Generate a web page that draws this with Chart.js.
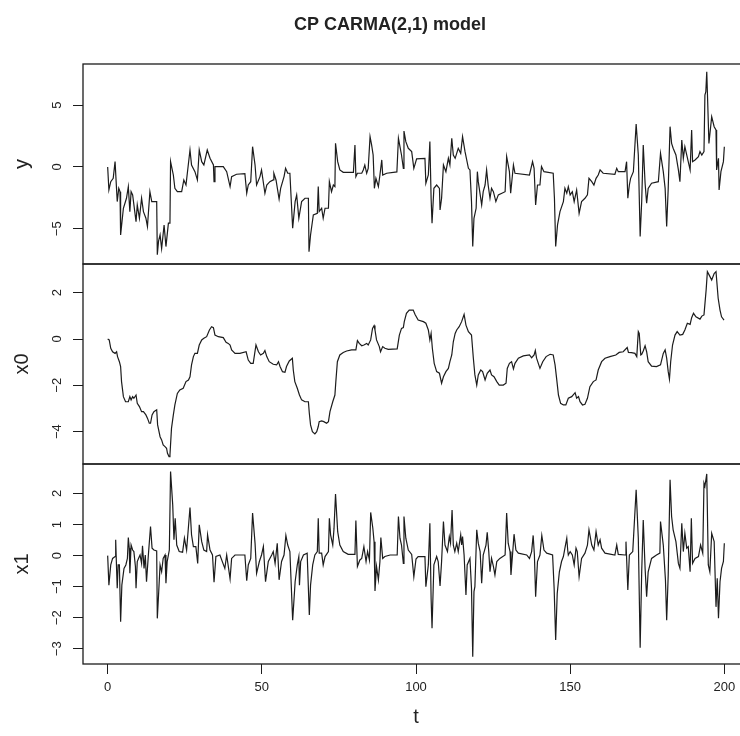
<!DOCTYPE html>
<html>
<head>
<meta charset="utf-8">
<script src="https://cdn.jsdelivr.net/npm/chart.js@4.4.1/dist/chart.umd.min.js"></script>
<style>
  html, body { margin: 0; padding: 0; background: #fff; overflow: hidden; }
  #wrap { position: relative; width: 740px; height: 736px; overflow: hidden; }
  canvas { position: absolute; left: 0; }
</style>
</head>
<body>
<div id="wrap">
  <canvas id="pY" width="780" height="270" style="top:0px"></canvas>
  <canvas id="pX0" width="780" height="212" style="top:258px"></canvas>
  <canvas id="pX1" width="780" height="278" style="top:458px"></canvas>
</div>
<script>
// ---- data (t = time, values per panel) ----
const tY = [
  0, 0.4, 1.0, 1.8, 2.4, 3.1, 3.6, 4.0, 4.2, 5.1,
  6.1, 6.7, 7.2, 7.6, 8.1, 9.2, 9.6, 10.3, 11.0, 11.6,
  12.4, 12.9, 13.7, 14.3, 15.9, 16.1, 16.5, 17.0, 17.5, 18.3,
  18.9, 19.7, 20.2, 20.4, 21.3, 21.8, 22.6, 24.0, 24.7, 25.4,
  26.7, 27.2, 28.3, 29.1, 29.7, 30.5, 31.2, 32.3, 33.2, 34.3,
  34.5, 34.8, 37.5, 38.6, 39.7, 40.2, 41.8, 44.5, 45.1, 45.6,
  46.4, 47.0, 47.8, 48.3, 49.4, 49.9, 51.0, 51.6, 52.6, 53.7,
  53.9, 54.6, 55.6, 56.1, 57.2, 57.7, 58.4, 59.1, 60.0, 60.8,
  61.3, 62.0, 62.9, 64.0, 65.1, 65.3, 65.8, 66.7, 68.0, 68.3,
  68.6, 69.4, 69.9, 70.5, 71.6, 71.9, 72.6, 73.2, 73.7, 73.9,
  74.6, 75.3, 76.4, 79.7, 80.2, 80.5, 81.0, 82.4, 82.9, 83.4,
  84.0, 84.5, 85.1, 85.6, 86.1, 86.5, 87.0, 87.8, 88.3, 88.9,
  89.2, 90.5, 93.8, 94.3, 94.8, 95.3, 95.9, 96.1, 96.7, 97.5,
  98.6, 99.3, 100.2, 102.9, 103.2, 104.0, 104.5, 104.9, 105.2, 105.8,
  106.7, 107.6, 107.8, 108.3, 108.9, 109.7, 110.5, 111.0, 111.6, 112.1,
  112.7, 113.7, 114.5, 115.1, 115.9, 117.0, 117.5, 118.0, 118.4, 118.8,
  119.5, 119.9, 120.2, 121.3, 121.8, 122.4, 122.9, 123.4, 124.0, 124.5,
  125.1, 125.9, 126.7, 128.9, 129.4, 130.3, 130.7, 131.6, 132.1, 136.8,
  137.8, 138.3, 138.8, 139.4, 140.2, 140.7, 141.5, 144.5, 144.9, 145.3,
  145.9, 146.7, 147.8, 148.3, 148.9, 149.4, 150.0, 150.7, 151.3, 152.1,
  152.9, 153.7, 154.8, 155.6, 156.1, 157.0, 157.7, 158.4, 159.1, 159.7,
  160.7, 164.5, 165.1, 165.6, 167.8, 168.3, 168.7, 169.2, 169.6, 170.5,
  171.4, 172.1, 172.7, 173.2, 173.7, 174.3, 174.8, 175.3, 176.4, 178.6,
  179.3, 180.2, 180.8, 181.3, 181.8, 182.4, 182.9, 183.4, 184.3, 185.1,
  185.6, 186.2, 186.7, 187.2, 187.8, 188.3, 188.9, 189.4, 189.7, 190.5,
  191.6, 192.1, 192.7, 193.4, 193.7, 194.0, 194.3, 194.6, 195.0, 195.9,
  196.7, 197.3, 197.5, 198.1, 198.3, 198.9, 199.7, 200.0
];
const yVals = [
  0, -1.86, -1.19, -0.92, 0.43, -2.8, -1.73, -2.0, -5.5, -3.34,
  -2.53, -1.59, -3.61, -2.0, -2.26, -4.42, -3.07, -4.15, -2.53, -3.61,
  -4.15, -4.82, -2.0, -2.8, -2.8, -7.1, -6.0, -5.5, -6.6, -4.7,
  -6.44, -4.55, -4.55, 0.43, -0.65, -1.73, -2.0, -2.0, -1.05, -1.46,
  1.37, 0.16, -0.38, -1.05, 1.37, 0.43, 0.16, 1.37, 0.7, 0.16,
  -1.19, 0.03, 0.03, -0.38, -1.59, -0.78, -0.59, -0.54, -2.13, -1.46,
  -1.19, 1.64, 0.16, -1.46, -0.78, -0.24, -2.13, -1.46, -1.19, -1.05,
  -0.51, -1.05, -2.59, -1.73, -0.78, -0.11, -0.51, -0.51, -4.96, -2.8,
  -2.26, -4.15, -2.8, -2.53, -2.53, -6.85, -5.5, -3.88, -3.75, -1.59,
  -3.61, -3.34, -4.15, -3.34, -3.34, -1.19, -2.0, -1.46, -1.59, 1.91,
  0.43, -0.24, -0.43, -0.43, 1.78, -0.78, -0.51, -0.51, -0.24, 0.16,
  -0.51, -0.11, 2.45, 1.78, 0.97, -1.73, -0.92, -1.59, -0.65, 0.57,
  -0.65, -0.51, -0.4, 2.32, 1.64, 0.97, -0.11, 2.91, 2.05, 1.51,
  1.24, -0.11, 0.65, 0.7, -1.32, -0.65, 2.05, -2.53, -4.55, -1.73,
  -1.46, -1.73, -3.48, -2.53, 0.16, -0.38, 0.7, 0.16, 2.32, 0.97,
  0.7, 1.51, 1.1, 2.45, 1.24, -0.11, -0.24, -2.8, -6.44, -4.15,
  -3.34, -0.38, -1.19, -3.07, -2.0, -1.46, -0.24, -1.46, -2.53, -1.73,
  -2.0, -2.8, -2.26, -2.0, 0.84, -0.38, -2.13, 0.16, -0.51, -0.65,
  0.43, -0.11, -3.07, -1.46, -1.46, 0.03, -0.38, -0.51, -2.53, -6.44,
  -4.69, -3.61, -2.8, -1.73, -2.13, -1.59, -2.26, -2.0, -2.8, -1.86,
  -3.75, -2.8, -2.53, -2.26, -0.92, -1.19, -1.46, -0.92, -0.65, -0.24,
  -0.51, -0.59, -0.11, -0.38, -0.38, 0.43, -2.53, -1.46, -0.92, -0.38,
  3.48, 0.97, -5.63, -2.8, 1.78, -1.32, -2.94, -1.73, -1.32, -1.19,
  1.1, -0.38, -1.73, -4.82, -1.73, 3.26, 1.91, 1.51, 0.97, -0.24,
  -1.19, 2.18, 0.7, 1.64, 0.97, 0.43, -0.24, 2.99, 0.43, 0.57,
  0.84, 1.24, 0.97, 1.24, 5.82, 6.09, 7.71, 5.28, 1.91, 4.07,
  3.26, 2.99, -0.24, 0.7, -1.86, -0.38, 0.43, 1.64
];

const tX0 = [
  0, 0.5, 1.0, 1.6, 2.4, 2.9, 3.2, 3.8, 4.2, 4.5,
  5.1, 5.8, 6.7, 7.2, 7.6, 8.1, 8.5, 9.2, 9.6, 10.3,
  11.0, 11.6, 12.4, 12.9, 13.5, 13.9, 14.4, 15.0, 15.9, 16.2,
  17.0, 17.5, 18.0, 18.6, 19.1, 19.4, 19.9, 20.2, 20.7, 21.3,
  21.8, 22.6, 23.4, 24.5, 25.4, 26.2, 26.7, 27.2, 27.8, 28.3,
  29.1, 29.7, 30.5, 31.2, 32.1, 33.0, 33.7, 34.3, 34.8, 35.9,
  37.5, 38.4, 39.1, 39.7, 40.2, 41.3, 42.9, 44.9, 45.6, 46.4,
  47.2, 48.1, 48.9, 49.6, 50.5, 51.0, 51.6, 52.4, 53.7, 54.8,
  55.4, 55.9, 56.7, 57.5, 58.0, 58.9, 59.9, 60.2, 60.7, 61.5,
  62.2, 62.9, 64.0, 65.1, 65.4, 65.8, 66.4, 67.2, 67.8, 68.3,
  68.6, 69.4, 70.1, 71.0, 71.6, 72.1, 73.0, 73.7, 74.0, 74.5,
  75.3, 76.4, 77.5, 79.1, 80.5, 81.0, 81.6, 82.4, 83.1, 84.0,
  84.5, 85.3, 85.9, 86.4, 86.7, 87.2, 88.1, 88.5, 89.2, 89.9,
  91.0, 93.9, 94.6, 95.3, 95.9, 96.2, 96.9, 97.8, 99.1, 99.7,
  100.7, 102.4, 103.2, 104.0, 104.5, 104.9, 105.3, 105.9, 106.7, 107.6,
  108.3, 108.9, 109.7, 110.5, 111.0, 111.6, 112.1, 112.7, 113.2, 114.0,
  114.8, 115.6, 116.2, 117.0, 118.0, 118.6, 119.1, 119.7, 120.2, 121.0,
  121.6, 122.4, 123.1, 124.0, 124.5, 125.3, 126.2, 127.0, 128.3, 129.2,
  129.6, 130.3, 131.0, 131.6, 132.1, 133.2, 134.8, 136.8, 137.5, 138.3,
  138.7, 139.1, 140.2, 141.1, 142.2, 143.5, 144.5, 145.1, 145.6, 146.2,
  146.9, 147.8, 148.6, 149.4, 150.5, 151.6, 152.1, 152.7, 153.2, 154.0,
  154.8, 155.6, 156.4, 157.5, 158.4, 159.1, 160.2, 161.3, 162.9, 164.8,
  165.9, 167.2, 168.5, 168.9, 169.9, 171.0, 171.6, 172.1, 172.4, 172.9,
  173.2, 173.7, 174.3, 174.8, 175.3, 176.4, 178.0, 179.3, 180.2, 180.8,
  181.3, 181.8, 182.2, 182.6, 183.2, 184.0, 184.7, 185.6, 186.5, 187.2,
  188.0, 188.9, 189.4, 190.0, 190.8, 192.1, 192.7, 193.4, 194.1, 194.5,
  195.1, 195.9, 196.7, 197.3, 198.0, 198.6, 199.1, 199.9
];
const x0Vals = [
  0, -0.04, -0.4, -0.55, -0.62, -0.55, -0.76, -0.98, -1.19, -1.84,
  -2.49, -2.71, -2.71, -2.49, -2.63, -2.49, -2.56, -2.42, -2.78, -2.92,
  -3.14, -3.14, -3.28, -3.42, -3.64, -3.64, -3.28, -3.14, -3.06, -3.71,
  -4.22, -4.36, -4.58, -4.65, -4.72, -4.94, -5.08, -5.01, -3.86, -3.28,
  -2.85, -2.35, -2.2, -2.13, -1.84, -1.77, -1.63, -1.12, -0.76, -0.62,
  -0.62, -0.26, -0.04, 0.03, 0.1, 0.39, 0.53, 0.49, 0.17, 0.1,
  0.06, -0.14, -0.19, -0.26, -0.47, -0.62, -0.62, -0.55, -0.91, -1.05,
  -1.05, -0.26, -0.55, -0.69, -0.62, -0.5, -0.76, -0.98, -1.09, -1.12,
  -0.98, -1.19, -1.41, -1.44, -1.19, -0.95, -0.83, -1.34, -1.84, -2.13,
  -2.42, -2.63, -2.71, -2.71, -3.21, -3.71, -4.0, -4.1, -4.0, -3.78,
  -3.57, -3.54, -3.57, -3.64, -3.57, -3.14, -2.71, -2.42, -1.84, -0.98,
  -0.69, -0.58, -0.52, -0.47, -0.47, -0.07, -0.19, -0.29, -0.26, -0.19,
  -0.26, -0.04, 0.46, 0.58, 0.39, -0.04, -0.33, -0.55, -0.33, -0.4,
  -0.45, -0.43, 0.17, 0.46, 0.49, 0.75, 1.11, 1.25, 1.25, 1.06,
  0.82, 0.75, 0.68, 0.39, -0.04, 0.24, -0.4, -1.05, -1.41, -1.48,
  -1.91, -1.63, -1.41, -1.27, -0.98, -0.69, -0.12, 0.24, 0.39, 0.53,
  0.75, 1.06, 0.6, 0.32, 0.17, -0.83, -1.55, -1.99, -1.55, -1.34,
  -1.41, -1.77, -1.48, -1.34, -1.55, -1.63, -1.84, -1.99, -1.99, -1.91,
  -1.27, -1.05, -0.98, -1.29, -1.05, -0.83, -0.73, -0.69, -0.81, -0.69,
  -0.5, -0.83, -1.27, -0.98, -0.76, -0.66, -0.69, -1.12, -1.7, -2.42,
  -2.78, -2.85, -2.85, -2.56, -2.49, -2.32, -2.56, -2.49, -2.71, -2.85,
  -2.82, -2.56, -2.06, -1.84, -1.77, -1.34, -0.98, -0.83, -0.76, -0.69,
  -0.58, -0.55, -0.37, -0.58, -0.59, -0.62, -0.76, 0.32, 0.24, -0.69,
  -0.66, -0.52, -0.29, -0.55, -0.98, -1.17, -1.19, -1.12, -0.62, -0.47,
  -0.83, -1.41, -1.73, -0.98, -0.26, 0.17, 0.32, 0.17, 0.2, 0.39,
  0.68, 0.63, 0.92, 1.11, 0.96, 0.86, 0.99, 1.04, 2.12, 2.91,
  2.76, 2.55, 2.83, 2.91, 1.76, 1.25, 0.96, 0.82
];

const tX1 = [
  0, 0.4, 1.0, 1.6, 2.4, 2.6, 2.9, 3.1, 3.4, 3.8,
  4.2, 4.6, 5.3, 5.9, 6.4, 6.7, 7.0, 7.2, 7.6, 8.1,
  8.5, 9.0, 9.2, 9.6, 10.0, 10.5, 11.0, 11.3, 11.8, 12.2,
  12.6, 13.2, 13.9, 14.4, 15.0, 15.9, 16.1, 16.5, 17.0, 17.5,
  18.0, 18.6, 18.9, 19.3, 20.0, 20.4, 21.1, 21.5, 21.9, 22.4,
  23.2, 24.3, 24.9, 25.6, 26.7, 27.2, 27.8, 28.6, 29.2, 29.7,
  30.5, 31.2, 32.1, 32.4, 33.2, 34.0, 34.5, 35.1, 36.4, 38.0,
  38.6, 39.7, 40.2, 41.3, 44.5, 45.1, 45.6, 46.4, 47.0, 47.8,
  48.3, 49.2, 49.9, 50.5, 51.2, 52.1, 53.2, 53.7, 54.3, 55.0,
  55.6, 56.4, 57.2, 57.8, 58.4, 59.1, 60.0, 60.8, 61.5, 62.0,
  62.2, 62.6, 63.5, 64.7, 65.4, 65.8, 66.5, 67.2, 68.0, 68.3,
  68.6, 69.4, 69.9, 70.5, 71.6, 71.9, 72.3, 73.0, 73.4, 73.9,
  74.6, 75.3, 76.4, 78.0, 80.2, 80.5, 81.0, 81.8, 82.4, 83.1,
  83.8, 84.3, 84.9, 85.3, 86.0, 86.4, 86.7, 87.2, 87.8, 88.3,
  88.6, 89.2, 89.9, 91.6, 93.9, 94.3, 94.8, 95.3, 95.9, 96.1,
  96.7, 97.5, 98.6, 99.3, 100.0, 100.7, 102.9, 103.2, 104.0, 104.5,
  104.9, 105.2, 105.8, 106.7, 107.2, 107.8, 108.3, 108.9, 109.4, 110.2,
  110.8, 111.2, 111.7, 112.1, 112.6, 113.2, 113.7, 114.5, 114.8, 115.1,
  115.6, 116.2, 116.6, 117.5, 118.0, 118.4, 118.8, 119.1, 119.7, 120.2,
  120.8, 121.3, 121.8, 122.7, 123.1, 123.6, 124.0, 124.5, 125.1, 125.6,
  126.2, 127.2, 128.9, 129.4, 129.9, 130.5, 130.8, 131.3, 131.8, 132.4,
  133.2, 135.9, 136.8, 137.5, 138.0, 138.4, 138.8, 139.4, 140.2, 140.8,
  141.5, 142.4, 144.3, 144.8, 145.3, 145.8, 146.5, 147.2, 147.8, 148.3,
  148.9, 149.2, 149.4, 150.0, 150.7, 151.3, 151.9, 152.3, 152.9, 153.7,
  154.8, 155.6, 156.1, 157.0, 157.7, 158.4, 159.1, 159.7, 160.2, 161.3,
  164.5, 165.1, 165.6, 167.8, 168.1, 168.7, 169.2, 170.3, 171.4, 172.1,
  172.7, 173.2, 173.7, 174.3, 174.8, 175.3, 176.4, 178.0, 179.1, 179.3,
  180.2, 180.9, 181.3, 181.8, 182.4, 182.9, 183.4, 184.3, 185.1, 185.6,
  186.2, 186.7, 187.2, 187.8, 188.3, 188.9, 189.3, 189.7, 190.5, 191.6,
  192.3, 193.0, 193.4, 193.7, 194.3, 194.8, 195.3, 195.9, 196.7, 197.3,
  197.7, 198.1, 198.6, 199.1, 199.7, 200.0
];
const x1Vals = [
  0, -0.95, -0.3, -0.09, -0.03, 0.51, -0.46, -1.05, -0.3, -0.3,
  -2.13, -0.95, -0.41, -0.3, -0.09, 0.58, 0.24, -0.57, 0.34, 0.18,
  0.13, -0.35, -1.05, -0.19, -0.09, 0.02, -0.25, 0.32, -0.41, 0.02,
  -0.84, 0.02, 0.94, 0.24, 0.18, 0.15, -2.02, -1.27, -0.3, -0.52,
  -0.09, 0.02, -0.89, -0.19, 0.18, 2.71, 1.63, 0.51, 1.2, 0.34,
  0.13, 0.11, 0.56, 0.18, 1.55, 0.67, 0.29, 0.29, -0.25, 0.99,
  0.45, 0.18, 0.13, 0.67, 0.18, 0.02, -0.86, -0.03, 0.02, -0.41,
  0.02, -0.75, -0.09, 0.02, 0.02, -0.81, -0.3, -0.09, 1.37, 0.4,
  -0.57, -0.19, 0.02, 0.29, -0.84, -0.19, 0.02, 0.13, -0.25, 0.4,
  -0.78, -0.19, 0.02, 0.65, 0.34, 0.13, -2.08, -0.84, -0.3, -0.03,
  -0.95, -0.19, 0.02, 0.08, -1.91, -0.95, -0.3, 0.02, 0.13, 1.2,
  0.08, 0.08, -0.3, -0.03, 0.13, 1.2, 0.67, 0.34, 0.86, 1.98,
  0.77, 0.34, 0.13, 0.04, 0.04, 1.13, -0.35, -0.14, -0.09, 0.29,
  -0.19, 0.13, -0.14, 1.39, 0.88, 0.45, -1.14, -0.35, -0.78, -0.19,
  0.58, -0.09, -0.03, 0.02, 0.02, 1.26, 0.56, 0.34, -0.25, 1.26,
  0.56, 0.18, 0.04, -0.68, -0.11, -0.03, -0.03, -1.0, -0.3, 1.04,
  -1.38, -2.34, -0.3, -0.03, -0.19, -0.98, -0.19, 1.1, 0.34, 0.13,
  0.61, 0.4, 1.47, 0.34, 0.13, 0.4, 0.13, 0.67, 0.34, 0.61,
  0.02, -1.27, -0.3, -0.09, -1.05, -3.26, -1.16, -1.0, 0.83, 0.4,
  0.13, -0.89, 0.02, 0.34, 0.75, 0.13, -0.52, -0.09, -0.35, -0.62,
  -0.19, -0.09, 0.02, 1.37, 0.4, 0.13, -0.62, 0.02, 0.69, 0.18,
  0.08, 0.02, -0.09, 0.13, 0.65, 0.02, -1.32, -0.19, 0.02, 0.65,
  0.18, 0.08, 0.02, -1.05, -2.72, -1.22, -0.52, -0.19, -0.03, 0.24,
  0.56, 0.18, 0.02, 0.13, 0.02, -0.3, 0.24, 0.13, -0.68, -0.09,
  0.08, 0.34, 0.83, 0.34, 0.18, 0.77, 0.34, 0.51, 0.24, 0.08,
  0.02, 0.34, 0.04, 0.02, 0.45, -1.11, 0.02, 0.13, 2.12, 0.56,
  -2.97, -0.52, 1.15, -0.41, -1.32, -0.52, -0.09, 0.02, 0.08, 1.1,
  0.34, -0.78, -2.08, -0.62, 2.44, 1.26, 0.83, 0.45, -0.25, -0.41,
  1.04, 0.13, 0.72, 0.24, 0.29, -0.52, 1.2, -0.25, -0.09, -0.03,
  0.34, 0.08, 2.33, 2.23, 2.63, -0.3, -0.52, 0.72, 0.45, -1.65,
  -0.73, -2.02, -0.84, -0.41, -0.19, 0.4
];

const xTicks = [0, 50, 100, 150, 200];
const yTicks = [-5, 0, 5];
const x0Ticks = [-4, -2, 0, 2];
const x1Ticks = [-3, -2, -1, 0, 1, 2];

const mainTitle = 'CP CARMA(2,1) model';
const xTitle = 't';

Chart.defaults.font.family = "'Liberation Sans', Arial, Helvetica, sans-serif";
Chart.defaults.color = '#222';

const INK = '#1c1c1c';

function fmt(v) {
  return v < 0 ? '\u2212' + Math.abs(v) : String(v);
}

// box around each panel, rotated y tick labels and the main title, like R's plot.ts
const panelDecor = {
  id: 'panelDecor',
  afterDatasetsDraw(chart) {
    const { ctx, chartArea: a } = chart;
    ctx.save();
    ctx.strokeStyle = INK;
    ctx.lineWidth = 1.3;
    ctx.strokeRect(a.left, a.top, a.right - a.left, a.bottom - a.top);
    ctx.restore();
  },
  afterDraw(chart, args, opts) {
    const { ctx } = chart;
    const s = chart.scales.y;
    ctx.save();
    ctx.fillStyle = '#222';
    ctx.font = "13px 'Liberation Sans', Arial, sans-serif";
    ctx.textAlign = 'center';
    ctx.textBaseline = 'middle';
    s.ticks.forEach((tk) => {
      const py = s.getPixelForValue(tk.value);
      ctx.save();
      ctx.translate(57.5, py);
      ctx.rotate(-Math.PI / 2);
      ctx.fillText(fmt(tk.value), 0, 0);
      ctx.restore();
    });
    if (opts.mainTitle) {
      ctx.font = "bold 18px 'Liberation Sans', Arial, sans-serif";
      ctx.textBaseline = 'alphabetic';
      ctx.fillText(opts.mainTitle, 390, 29.5);
    }
    ctx.restore();
  }
};

function makePanel(id, times, vals, yMin, yMax, ticks, label, opts) {
  const pts = times.map((t, i) => ({ x: t, y: vals[i] }));
  const showX = !!opts.showX;
  return new Chart(document.getElementById(id), {
    type: 'line',
    data: {
      datasets: [{
        data: pts,
        borderColor: INK,
        borderWidth: 1.2,
        pointRadius: 0,
        tension: 0,
        fill: false
      }]
    },
    options: {
      responsive: false,
      animation: false,
      devicePixelRatio: 1,
      layout: { padding: opts.padding },
      plugins: {
        legend: { display: false },
        tooltip: { enabled: false },
        title: { display: false },
        panelDecor: { mainTitle: opts.title || null }
      },
      scales: {
        x: {
          type: 'linear',
          min: -8,
          max: 208,
          display: showX,
          afterBuildTicks: (s) => { s.ticks = xTicks.map((v) => ({ value: v })); },
          afterFit: (s) => { if (showX) s.height = 72; },
          border: { display: false },
          grid: { drawOnChartArea: false, tickLength: 10, color: INK, lineWidth: 1 },
          ticks: { autoSkip: false, maxRotation: 0, padding: 6, color: '#222', font: { size: 13 } },
          title: { display: true, text: xTitle, color: '#222', font: { size: 20 }, padding: { top: 0, bottom: 7 } }
        },
        y: {
          type: 'linear',
          min: yMin,
          max: yMax,
          afterBuildTicks: (s) => { s.ticks = ticks.map((v) => ({ value: v })); },
          afterFit: (s) => { s.width = 83; },
          border: { display: false },
          grid: { drawOnChartArea: false, tickLength: 10, color: INK, lineWidth: 1 },
          ticks: { display: false },
          title: { display: true, text: label, color: '#222', font: { size: 20 }, padding: { top: 10, bottom: 0 } }
        }
      }
    },
    plugins: [panelDecor]
  });
}

makePanel('pY', tY, yVals, -7.85, 8.33, yTicks, 'y',
  { title: mainTitle, padding: { left: 0, right: 31, top: 64, bottom: 6 } });
makePanel('pX0', tX0, x0Vals, -5.40, 3.24, x0Ticks, 'x0',
  { padding: { left: 0, right: 31, top: 6, bottom: 6 } });
makePanel('pX1', tX1, x1Vals, -3.49, 2.95, x1Ticks, 'x1',
  { showX: true, padding: { left: 0, right: 31, top: 6, bottom: 0 } });
</script>
</body>
</html>
